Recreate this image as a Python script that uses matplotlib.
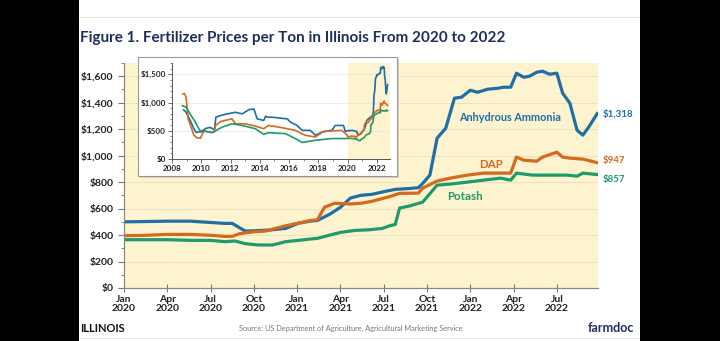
import matplotlib
matplotlib.use("Agg")
from matplotlib import pyplot as plt
from matplotlib.patches import Rectangle
from matplotlib.ticker import MultipleLocator, FuncFormatter

# main chart: months since Jan 2020, $ per ton
aa_month = [0, 1.5, 3.0, 4.6, 6.0, 7.0, 7.5, 8.4, 9.0, 10.1, 11.2, 12.1, 12.9, 13.4, 14.3, 15.0, 15.7, 16.4,
            17.2, 18.1, 18.8, 19.8, 20.4, 20.7, 21.2, 21.7, 22.3, 22.9, 23.4, 24.0, 24.5, 25.2, 25.9, 26.3,
            26.8, 27.2, 27.7, 28.1, 28.6, 29.0, 29.5, 30.0, 30.4, 30.9, 31.4, 31.8, 32.2, 32.8]
aa_price = [500, 502, 505, 505, 495, 488, 488, 430, 432, 438, 450, 490, 505, 510, 560, 610, 680, 700,
            708, 730, 745, 752, 758, 790, 853, 1132, 1208, 1434, 1442, 1494, 1479, 1502, 1509, 1517,
            1517, 1623, 1592, 1600, 1630, 1638, 1615, 1623, 1472, 1396, 1192, 1155, 1215, 1318]

dap_month = [0, 1.5, 3.0, 4.6, 6.0, 7.0, 7.5, 8.0, 9.0, 9.8, 10.5, 11.2, 12.1, 12.9, 13.4, 13.9, 14.6,
             15.7, 16.4, 17.2, 17.7, 18.4, 19.1, 20.4, 20.7, 21.7, 22.6, 23.8, 24.9, 26.8, 27.2, 27.7,
             28.6, 29.0, 30.0, 30.4, 30.9, 31.8, 32.8]
dap_price = [395, 398, 405, 405, 398, 390, 390, 410, 425, 430, 450, 470, 490, 510, 515, 611, 640,
             635, 640, 655, 670, 690, 715, 717, 755, 808, 830, 853, 868, 868, 989, 966,
             958, 989, 1026, 989, 981, 974, 947]

pot_month = [0, 1.5, 3.0, 4.6, 6.0, 7.0, 7.7, 8.4, 9.3, 10.3, 11.2, 12.1, 12.9, 13.4, 14.1, 15.0, 16.0,
             17.0, 17.9, 18.4, 18.8, 19.1, 19.8, 20.7, 21.7, 22.6, 23.8, 24.9, 26.1, 26.8, 27.2, 28.3,
             30.7, 31.4, 31.8, 32.8]
pot_price = [365, 365, 365, 360, 360, 350, 355, 335, 325, 325, 350, 360, 370, 375, 395, 420, 435,
             440, 450, 470, 480, 604, 620, 649, 777, 785, 800, 815, 830, 815, 868, 853,
             853, 845, 868, 857]

# inset: history before 2020 (decimal years)
aa_hist_year = [2008.8, 2008.95, 2009.1, 2009.25, 2009.45, 2009.65, 2009.85, 2010.05, 2010.3, 2010.6,
                2010.9, 2011.0, 2011.3, 2011.78, 2012.34, 2012.8, 2013.25, 2013.6, 2013.82, 2014.27,
                2014.4, 2014.5, 2014.84, 2015.87, 2016.1, 2016.55, 2016.9, 2017.45, 2017.8, 2018.25,
                2018.93, 2019.16, 2019.72, 2019.84]
aa_hist_price = [870, 830, 760, 680, 560, 470, 480, 500, 540, 560,
                 520, 740, 769, 799, 827, 799, 874, 886, 711, 682,
                 760, 740, 740, 711, 652, 594, 507, 507, 420, 477,
                 507, 594, 594, 489]
dap_hist_year = [2008.75, 2008.85, 2008.95, 2009.0, 2009.1, 2009.27, 2009.5, 2009.73, 2009.96, 2010.18,
                 2010.52, 2010.86, 2010.98, 2011.32, 2012.1, 2012.34, 2013.02, 2013.7, 2014.27, 2014.6,
                 2015.3, 2016.43, 2017.1, 2017.8, 2018.36, 2019.6, 2019.95]
dap_hist_price = [1150, 1160, 1100, 1002, 711, 594, 420, 372, 372, 507,
                  477, 477, 594, 664, 711, 624, 624, 582, 536, 594,
                  565, 507, 420, 390, 489, 507, 430]
pot_hist_year = [2008.7, 2008.98, 2009.16, 2009.6, 2009.96, 2010.3, 2010.75, 2011.43, 2012.1, 2012.8,
                 2013.7, 2014.27, 2014.6, 2015.75, 2016.43, 2016.9, 2017.8, 2018.93, 2019.96]
pot_hist_price = [944, 914, 827, 652, 477, 489, 466, 565, 624, 594,
                  536, 437, 466, 449, 362, 292, 332, 362, 362]

month_ticks = [0, 3, 6, 9, 12, 15, 18, 21, 24, 27, 30]
month_labels = ["Jan\n2020", "Apr\n2020", "Jul\n2020", "Oct\n2020", "Jan\n2021", "Apr\n2021",
                "Jul\n2021", "Oct\n2021", "Jan\n2022", "Apr\n2022", "Jul\n2022"]

BLUE = "#1f6ea6"
ORANGE = "#d4691f"
GREEN = "#1f9a6a"
YELLOW = "#fdf3cf"
NAVY = "#1f2f5c"

plt.rcParams["font.family"] = ["Lato", "DejaVu Sans"]
plt.rcParams["font.weight"] = "bold"

W, H = 720, 341


def fx(x):
    return x / W


def fy(y):
    return 1 - y / H


def dollars(v, pos):
    return "${:,.0f}".format(v)


fig = plt.figure(figsize=(7.2, 3.41), dpi=100)
fig.patch.set_facecolor("white")

# main axes
ax = fig.add_axes([fx(124), fy(288), fx(598) - fx(124), fy(63) - fy(288)])
ax.set_facecolor(YELLOW)
ax.plot(aa_month, aa_price, color=BLUE, lw=2.3, solid_joinstyle="round")
ax.plot(dap_month, dap_price, color=ORANGE, lw=2.3, solid_joinstyle="round")
ax.plot(pot_month, pot_price, color=GREEN, lw=2.3, solid_joinstyle="round")
ax.set_xlim(0, 32.85)
ax.set_ylim(0, 1700)
ax.yaxis.set_major_locator(MultipleLocator(200))
ax.yaxis.set_minor_locator(MultipleLocator(100))
ax.yaxis.set_major_formatter(FuncFormatter(dollars))
ax.set_xticks(month_ticks)
ax.set_xticklabels(month_labels, fontsize=7.5, color="#222222", linespacing=1.0)
ax.tick_params(axis="y", labelsize=7.5, labelcolor="#222222", color="#777777", length=4, width=0.8)
ax.tick_params(axis="y", which="minor", color="#777777", length=2, width=0.6)
ax.tick_params(axis="x", direction="inout", length=6, width=0.8, color="#777777", pad=2)
ax.grid(axis="y", color="#e9dfbf", lw=0.6)
ax.set_axisbelow(True)
for s in ["top", "right"]:
    ax.spines[s].set_visible(False)
for s in ["left", "bottom"]:
    ax.spines[s].set_color("#888888")
    ax.spines[s].set_linewidth(0.9)

ax.text(23.2, 1290, "Anhydrous Ammonia", color=BLUE, fontsize=7.8, ha="left", va="center")
ax.text(24.6, 935, "DAP", color=ORANGE, fontsize=8.3, ha="left", va="center")
ax.text(22.4, 695, "Potash", color=GREEN, fontsize=8.3, ha="left", va="center")
ax.text(33.2, aa_price[-1], "${:,}".format(aa_price[-1]), color=BLUE, fontsize=7, va="center",
        clip_on=False)
ax.text(33.2, dap_price[-1] + 20, "${:,}".format(dap_price[-1]), color=ORANGE, fontsize=7, va="center",
        clip_on=False)
ax.text(33.2, pot_price[-1] - 40, "${:,}".format(pot_price[-1]), color=GREEN, fontsize=7, va="center",
        clip_on=False)

# inset box with shadow
fig.patches.append(Rectangle((fx(140), fy(178)), fx(397) - fx(138), fy(57) - fy(176),
                             transform=fig.transFigure, facecolor="#bbbbbb", edgecolor="none",
                             alpha=0.6, zorder=1))
fig.patches.append(Rectangle((fx(138), fy(176)), fx(397) - fx(138), fy(57) - fy(176),
                             transform=fig.transFigure, facecolor="white", edgecolor="#9a9a9a",
                             lw=0.8, zorder=1.1))

ins = fig.add_axes([fx(172), fy(159), fx(390) - fx(172), fy(63) - fy(159)], zorder=2)
ins.set_facecolor("none")
ins.axvspan(2020, 2022.9, color=YELLOW, lw=0, zorder=0)
ins.plot(aa_hist_year + [2020 + m / 12 for m in aa_month], aa_hist_price + aa_price, color=BLUE, lw=1.2)
ins.plot(dap_hist_year + [2020 + m / 12 for m in dap_month], dap_hist_price + dap_price, color=ORANGE,
         lw=1.2)
ins.plot(pot_hist_year + [2020 + m / 12 for m in pot_month], pot_hist_price + pot_price, color=GREEN,
         lw=1.2)
ins.set_xlim(2008, 2022.9)
ins.set_ylim(0, 1700)
ins.set_xticks(range(2008, 2023, 2))
ins.xaxis.set_minor_locator(MultipleLocator(1))
ins.yaxis.set_major_locator(MultipleLocator(500))
ins.yaxis.set_minor_locator(MultipleLocator(100))
ins.yaxis.set_major_formatter(FuncFormatter(dollars))
ins.tick_params(labelsize=5.8, labelcolor="#222222", color="#555555", length=3, width=0.6, pad=1.5)
ins.tick_params(which="minor", color="#555555", length=1.5, width=0.5)
ins.grid(axis="y", color="#e4e4e4", lw=0.5)
ins.set_axisbelow(True)
for s in ["top", "right"]:
    ins.spines[s].set_visible(False)
for s in ["left", "bottom"]:
    ins.spines[s].set_color("#555555")
    ins.spines[s].set_linewidth(0.7)

# title and footer
fig.text(fx(80), fy(38), "Figure 1. Fertilizer Prices per Ton in Illinois From 2020 to 2022",
         fontsize=11, color=NAVY, ha="left", va="center")
fig.text(fx(80), fy(328), "ILLINOIS", fontsize=8, color="#111111", ha="left", va="center")
fig.text(fx(351), fy(328), "Source: US Department of Agriculture, Agricultural Marketing Service",
         fontsize=5.3, color="#777777", ha="center", va="center", weight="normal")
fig.text(fx(634), fy(328), "farmdoc", fontsize=9, color=NAVY, ha="right", va="center")

# frame lines and black screen borders
fig.add_artist(plt.Line2D([fx(79), fx(640)], [fy(17), fy(17)], transform=fig.transFigure,
                          color="#e6e6e6", lw=0.8))
fig.add_artist(plt.Line2D([fx(79), fx(640)], [fy(338), fy(338)], transform=fig.transFigure,
                          color="#e6e6e6", lw=0.8))
fig.patches.append(Rectangle((0, 0), fx(79), 1, transform=fig.transFigure, facecolor="black",
                             edgecolor="none", zorder=10))
fig.patches.append(Rectangle((fx(640), 0), 1 - fx(640), 1, transform=fig.transFigure, facecolor="black",
                             edgecolor="none", zorder=10))

fig.savefig("out.png", dpi=100)
